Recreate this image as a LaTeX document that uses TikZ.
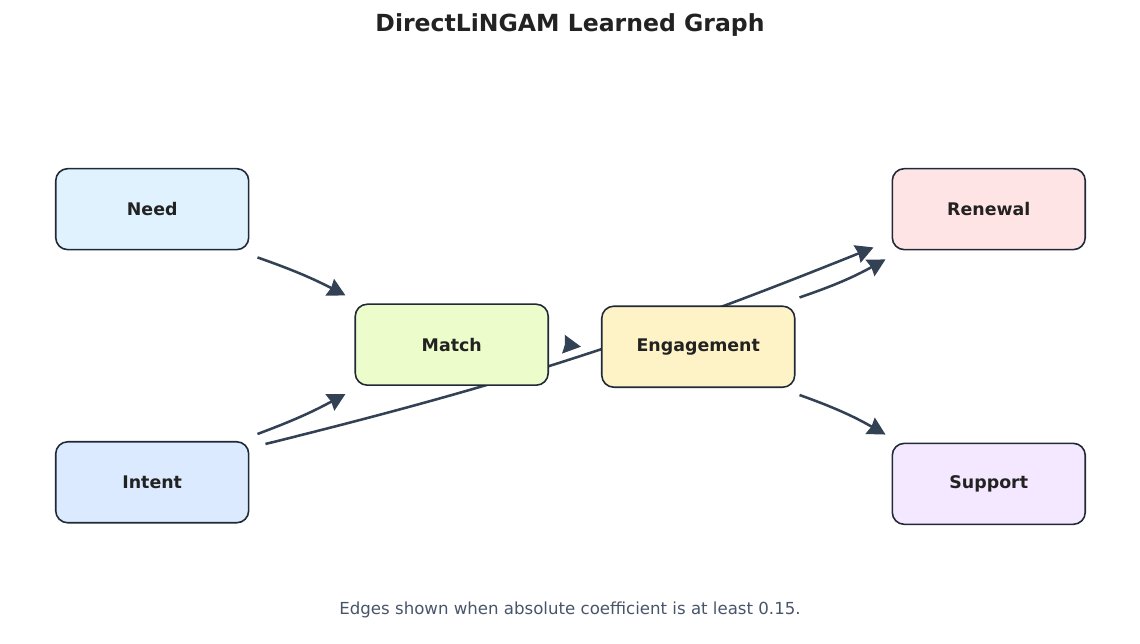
\documentclass[tikz,border=0pt]{standalone}
\usepackage{fontspec}
\setmainfont{DejaVu Sans}
\usepackage{xcolor}
\usepackage{tikz}
\usetikzlibrary{matrix,arrows.meta,backgrounds}

\definecolor{edgecol}{HTML}{334155}
\definecolor{framecol}{HTML}{1F2937}
\definecolor{titlecol}{HTML}{222222}
\definecolor{notecol}{HTML}{475569}
\definecolor{needcol}{HTML}{E0F2FE}
\definecolor{intentcol}{HTML}{DBEAFE}
\definecolor{matchcol}{HTML}{ECFCCB}
\definecolor{engcol}{HTML}{FEF3C7}
\definecolor{renewcol}{HTML}{FFE4E6}
\definecolor{supportcol}{HTML}{F3E8FF}

\begin{document}
\begin{tikzpicture}[x=0.02cm,y=-0.02cm,>={Stealth[length=10pt,width=10.5pt,inset=0.8pt]},
  box/.style={draw=framecol,line width=0.9pt,rounded corners=0.24cm,
    minimum width=3.86cm,minimum height=1.62cm,text=titlecol,
    font=\bfseries\fontsize{9.9}{12}\selectfont},
  link/.style={->,draw=edgecol,line width=1.45pt}]

\useasboundingbox (0,0) rectangle (1140,644);

\node (title) at (570,25) {\textcolor{titlecol}{\bfseries\fontsize{13.4}{16}\selectfont DirectLiNGAM Learned Graph}};

\matrix (m) [matrix of nodes, row sep=1.06cm, column sep=0cm,
  nodes={box}] at (570.5,346.5) {
|[fill=needcol] (need)| Need &[2.1cm] &[1.04cm] &[1.92cm] |[fill=renewcol] (renewal)| Renewal \\
 & |[fill=matchcol] (match)| Match & |[fill=engcol] (engagement)| Engagement & \\
|[fill=intentcol] (intent)| Intent & & & |[fill=supportcol] (support)| Support \\
};

% edges go under the boxes, the long one runs behind Match and Engagement
\begin{scope}[on background layer]
\path[->]
([shift={(8,7)}]need.south east) edge [link, bend left=4] ([shift={(-9,-8)}]match.north west)
([shift={(8,-7)}]intent.north east) edge [link, bend right=4] ([shift={(-9,8)}]match.south west)
([shift={(16,3)}]intent.north east) edge [link, bend right=4] ([shift={(-18,-3)}]renewal.south west)
([shift={(18,0)}]match.east) edge [link] ([shift={(-20,0)}]engagement.west)
([shift={(4,-8)}]engagement.north east) edge [link, bend right=5] ([shift={(-6,9)}]renewal.south west)
([shift={(4,7)}]engagement.south east) edge [link, bend left=5] ([shift={(-6,-8)}]support.north west);
\end{scope}

\node (note) at (570,610) {\textcolor{notecol}{\fontsize{9.45}{11}\selectfont Edges shown when absolute coefficient is at least 0.15.}};
\end{tikzpicture}
\end{document}
